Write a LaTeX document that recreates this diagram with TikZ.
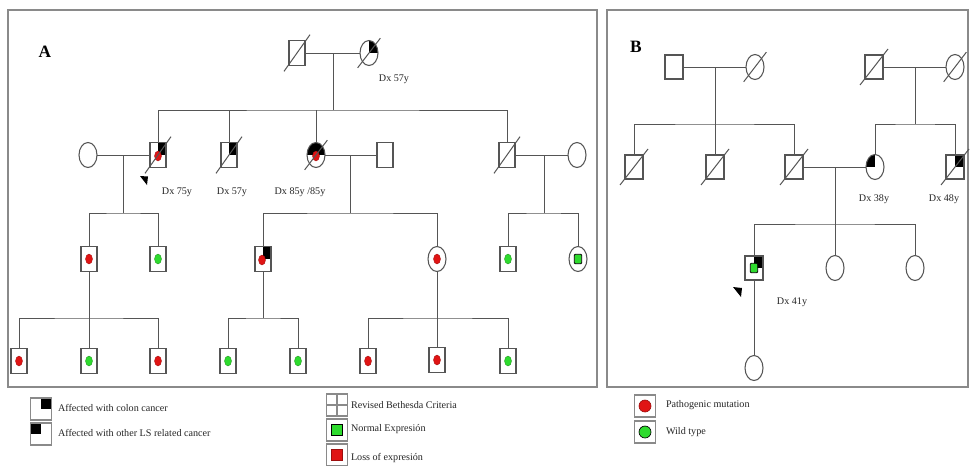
\documentclass[tikz,border=0pt]{standalone}
\usepackage{fontspec}
\setmainfont{Liberation Serif}
\usetikzlibrary{shapes.geometric,calc}
\definecolor{ln}{HTML}{555555}
\definecolor{frm}{HTML}{8A8A8A}
\definecolor{mutred}{HTML}{E01414}
\definecolor{wtgreen}{HTML}{2EDB2E}
\newcommand\deceased[1]{\draw[lnk] ($(#1.south west)+(-5,6)$) -- ($(#1.north east)+(5,-6)$);}
\begin{document}
\begin{tikzpicture}[x=0.75pt,y=-0.75pt,
  every node/.style={inner sep=0pt, outer sep=0pt},
  lnk/.style={draw=ln, line width=0.75pt},
  male/.style={draw=ln, line width=0.8pt, rectangle, fill=white, minimum width=12pt, minimum height=18.5pt},
  maleb/.style={male, minimum width=13.5pt, minimum height=18pt},
  female/.style={draw=ln, line width=0.8pt, ellipse, fill=white, minimum width=13.5pt, minimum height=18.75pt},
  colon/.style={path picture={\fill[black] (path picture bounding box.center) rectangle (path picture bounding box.north east);}},
  other/.style={path picture={\fill[black] (path picture bounding box.center) rectangle (path picture bounding box.north west);}},
  both/.style={path picture={\fill[black] (path picture bounding box.west) rectangle (path picture bounding box.north east);}},
  rdot/.style={ellipse, fill=mutred, draw=mutred!75!black, line width=0.3pt, minimum width=5.2pt, minimum height=7.5pt},
  gdot/.style={ellipse, fill=wtgreen, draw=wtgreen!70!black, line width=0.3pt, minimum width=5.2pt, minimum height=7.5pt},
  gsq/.style={rectangle, rounded corners=0.6pt, fill=wtgreen, draw=black, line width=0.6pt, minimum width=5.5pt, minimum height=7pt},
  txt/.style={font=\fontsize{7.6}{9}\selectfont, text=black!85},
  lbl/.style={font=\fontsize{13}{15}\selectfont\bfseries},
  lgbox/.style={draw=frm, line width=1pt, rectangle, fill=white, minimum width=15.5pt, minimum height=16.5pt},
  frame/.style={draw=frm, line width=1.1pt}
]
\useasboundingbox (0,0) rectangle (970,465);
\fill[white] (0,0) rectangle (970,465);

% ---------- panel frames ----------
\draw[frame] (8,10) rectangle (597,387);
\draw[frame] (607,10) rectangle (968,387);
\node[lbl] (labA) at (45,52) {A};
\node[lbl] (labB) at (636,47) {B};

% ================= family A =================
% generation I
\node[male] (a1) at (297,53) {};
\node[female,colon] (a2) at (369,53) {};
\coordinate (a12) at (333,53);
\coordinate (a12s) at (333,110);

% generation II
\node[female] (b0) at (88,155) {};
\node[male,colon] (b1) at (158,155) {};
\node[male,colon] (b2) at (229,155) {};
\node[female,both] (b3) at (316,155) {};
\node[male] (b4) at (385,155) {};
\node[male] (b5) at (507,155) {};
\node[female] (b6) at (577,155) {};
\node[rdot] (b1d) at (158,156) {};
\node[rdot] (b3d) at (316,156) {};
\coordinate (m1) at (123,155);
\coordinate (m2) at (350,155);
\coordinate (m3) at (544,155);
\coordinate (s1) at (123,213);
\coordinate (s2) at (350,213);
\coordinate (s3) at (544,213);

% generation III
\node[male] (c1) at (89,259) {};
\node[male] (c2) at (158,259) {};
\node[male,colon] (c3) at (263,259) {};
\node[female] (c4) at (437,259) {};
\node[male] (c5) at (508,259) {};
\node[female] (c6) at (578,259) {};
\node[rdot] (c1d) at (89,259) {};
\node[gdot] (c2d) at (158,259) {};
\node[rdot] (c3d) at (262,260) {};
\node[rdot] (c4d) at (437,259) {};
\node[gdot] (c5d) at (508,259) {};
\node[gsq] (c6d) at (578,259) {};
\coordinate (t1) at (89,318);
\coordinate (t2) at (263,318);
\coordinate (t3) at (437,318);

% generation IV
\node[male] (d1) at (19,361) {};
\node[male] (d2) at (89,361) {};
\node[male] (d3) at (158,361) {};
\node[male] (d4) at (228,361) {};
\node[male] (d5) at (298,361) {};
\node[male] (d6) at (368,361) {};
\node[male] (d7) at (437,360) {};
\node[male] (d8) at (508,361) {};
\node[rdot] (d1d) at (19,361) {};
\node[gdot] (d2d) at (89,361) {};
\node[rdot] (d3d) at (158,361) {};
\node[gdot] (d4d) at (228,361) {};
\node[gdot] (d5d) at (298,361) {};
\node[rdot] (d6d) at (368,361) {};
\node[rdot] (d7d) at (437,360) {};
\node[gdot] (d8d) at (508,361) {};

% connectors, family A
\draw[lnk] (a1) -- (a2);
\draw[lnk] (a12) -- (a12s);
\draw[lnk] (b1.north) |- (a12s) -| (b5.north);
\draw[lnk] (b2.north) -- (b2.north |- a12s);
\draw[lnk] (b3.north) -- (b3.north |- a12s);

\draw[lnk] (b0) -- (b1);
\draw[lnk] (b3) -- (b4);
\draw[lnk] (b5) -- (b6);
\draw[lnk] (m1) -- (s1);
\draw[lnk] (m2) -- (s2);
\draw[lnk] (m3) -- (s3);
\draw[lnk] (c1.north) |- (s1) -| (c2.north);
\draw[lnk] (c3.north) |- (s2) -| (c4.north);
\draw[lnk] (c5.north) |- (s3) -| (c6.north);

\draw[lnk] (c1.south) -- (d2.north);
\draw[lnk] (d1.north) |- (t1) -| (d3.north);
\draw[lnk] (c3.south) -- (t2);
\draw[lnk] (d4.north) |- (t2) -| (d5.north);
\draw[lnk] (c4.south) -- (d7.north);
\draw[lnk] (d6.north) |- (t3) -| (d8.north);

% deceased marks, family A
\deceased{a1}
\deceased{a2}
\deceased{b1}
\deceased{b2}
\deceased{b3}
\deceased{b5}

% proband arrow, family A
\fill[black] (140,176) -- (148,176.5) -- (147,185) -- cycle;

% ages at diagnosis, family A
\node[txt] (dxa2) at (394,79) {Dx 57y};
\node[txt] (dxb1) at (177,192) {Dx 75y};
\node[txt] (dxb2) at (232,192) {Dx 57y};
\node[txt] (dxb3) at (300,192) {Dx 85y /85y};

% ================= family B =================
% generation I
\node[maleb] (e1) at (674,67) {};
\node[female] (e2) at (755,67) {};
\node[maleb] (e3) at (874,67) {};
\node[female] (e4) at (955,67) {};
\coordinate (n1) at (715,67);
\coordinate (n1s) at (715,124);
\coordinate (n2) at (915,67);
\coordinate (n2s) at (915,124);

% generation II
\node[maleb] (f1) at (634,167) {};
\node[maleb] (f2) at (715,167) {};
\node[maleb] (f3) at (794,167) {};
\node[female,other] (f4) at (875,167) {};
\node[maleb,colon] (f5) at (955,167) {};
\coordinate (n3) at (835,167);
\coordinate (n3s) at (835,224);

% generation III
\node[maleb,colon] (g1) at (754,268) {};
\node[gsq] (g1d) at (754,268) {};
\node[female] (g2) at (835,268) {};
\node[female] (g3) at (915,268) {};

% generation IV
\node[female] (h1) at (754,368) {};

% connectors, family B
\draw[lnk] (e1) -- (e2);
\draw[lnk] (e3) -- (e4);
\draw[lnk] (n1) -- (n1s);
\draw[lnk] (n2) -- (n2s);
\draw[lnk] (f1.north) |- (n1s) -| (f3.north);
\draw[lnk] (f2.north) -- (n1s);
\draw[lnk] (f4.north) |- (n2s) -| (f5.north);
\draw[lnk] (f3) -- (f4);
\draw[lnk] (n3) -- (n3s);
\draw[lnk] (g1.north) |- (n3s) -| (g3.north);
\draw[lnk] (g2.north) -- (n3s);
\draw[lnk] (g1.south) -- (h1.north);

% deceased marks, family B
\deceased{e2}
\deceased{e3}
\deceased{e4}
\deceased{f1}
\deceased{f2}
\deceased{f3}
\deceased{f5}

% proband arrow, family B
\fill[black] (733,287) -- (742,288) -- (741,297) -- cycle;

% ages at diagnosis, family B
\node[txt] (dxf4) at (874,199) {Dx 38y};
\node[txt] (dxf5) at (944,199) {Dx 48y};
\node[txt] (dxg1) at (792,302) {Dx 41y};

% ================= legend =================
\node[lgbox,colon] (k1) at (41,409) {};
\node[txt,anchor=west] (k1t) at (58,408) {Affected with colon cancer};
\node[lgbox,other] (k2) at (41,434) {};
\node[txt,anchor=west] (k2t) at (58,433) {Affected with other LS related cancer};

\node[lgbox] (k3) at (337,405) {};
\draw[draw=frm, line width=1pt] (k3.north) -- (k3.south) (k3.west) -- (k3.east);
\node[txt,anchor=west] (k3t) at (351,405) {Revised Bethesda Criteria};
\node[lgbox] (k4) at (337,430) {};
\node[rectangle, fill=wtgreen, draw=black, line width=0.5pt, minimum width=8pt, minimum height=8pt] (k4s) at (337,430) {};
\node[txt,anchor=west] (k4t) at (351,429) {Normal Expresión};
\node[lgbox] (k5) at (337,455) {};
\node[rectangle, fill=mutred, draw=mutred!70!black, line width=0.5pt, minimum width=8pt, minimum height=8pt] (k5s) at (337,455) {};
\node[txt,anchor=west] (k5t) at (351,458) {Loss of expresión};

\node[lgbox] (k6) at (645,406) {};
\node[circle, fill=mutred, draw=mutred!70!black, line width=0.5pt, minimum size=9pt] (k6s) at (645,406) {};
\node[txt,anchor=west] (k6t) at (666,405) {Pathogenic mutation};
\node[lgbox] (k7) at (645,432) {};
\node[circle, fill=wtgreen, draw=black, line width=0.5pt, minimum size=9pt] (k7s) at (645,432) {};
\node[txt,anchor=west] (k7t) at (666,432) {Wild type};
\end{tikzpicture}
\end{document}
